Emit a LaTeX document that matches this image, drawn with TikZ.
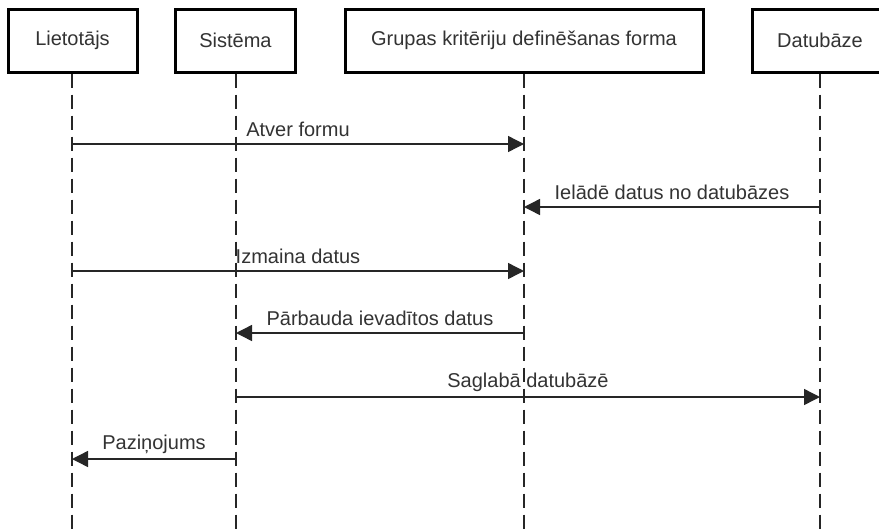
\documentclass[tikz,border=0pt]{standalone}
\usepackage{fontspec}
\setmainfont{Liberation Sans}
\usetikzlibrary{arrows.meta}
\definecolor{txt}{HTML}{333333}
\begin{document}
\begin{tikzpicture}[x=1pt,y=-1pt,
  actor/.style={draw=black, line width=3pt, minimum height=63pt, inner sep=0pt,
    font=\fontsize{20}{24}\selectfont, text=txt},
  life/.style={line width=1.6pt, draw=black!85, dash pattern=on 14pt off 7pt},
  msg/.style={line width=1.4pt, draw=black!85, -{Triangle[length=16pt,width=16pt]}},
  lbl/.style={font=\fontsize{20}{24}\selectfont, text=txt, inner sep=0pt, midway, yshift=15pt}]
\useasboundingbox[fill=white] (0,0) rectangle (879,531);
% actors
\node[actor, minimum width=129pt] (L) at (72.5,40.5) {Lietotājs};
\node[actor, minimum width=120pt] (S) at (235.5,40.5) {Sistēma};
\node[actor, minimum width=358pt] (G) at (524,40.5) {Grupas kritēriju definēšanas forma};
\node[actor, minimum width=136pt] (D) at (820,40.5) {Datubāze};
% lifeline ends
\coordinate (Le) at (72,531);
\coordinate (Se) at (236,531);
\coordinate (Ge) at (524,531);
\coordinate (De) at (820,531);
\draw[life] (L.south -| Le) -- (Le);
\draw[life] (S.south -| Se) -- (Se);
\draw[life] (G.south -| Ge) -- (Ge);
\draw[life] (D.south -| De) -- (De);
% message points
\coordinate (L1) at (72,144);  \coordinate (G1) at (524,144);
\coordinate (D2) at (820,207); \coordinate (G2) at (524,207);
\coordinate (L3) at (72,271);  \coordinate (G3) at (524,271);
\coordinate (G4) at (524,333); \coordinate (S4) at (236,333);
\coordinate (S5) at (236,397); \coordinate (D5) at (820,397);
\coordinate (S6) at (236,459); \coordinate (L6) at (72,459);
\draw[msg] (L1) -- node[lbl] (t1) {Atver formu} (G1);
\draw[msg] (D2) -- node[lbl] (t2) {Ielādē datus no datubāzes} (G2);
\draw[msg] (L3) -- node[lbl] (t3) {Izmaina datus} (G3);
\draw[msg] (G4) -- node[lbl] (t4) {Pārbauda ievadītos datus} (S4);
\draw[msg] (S5) -- node[lbl] (t5) {Saglabā datubāzē} (D5);
\draw[msg] (S6) -- node[lbl] (t6) {Paziņojums} (L6);
\end{tikzpicture}
\end{document}
